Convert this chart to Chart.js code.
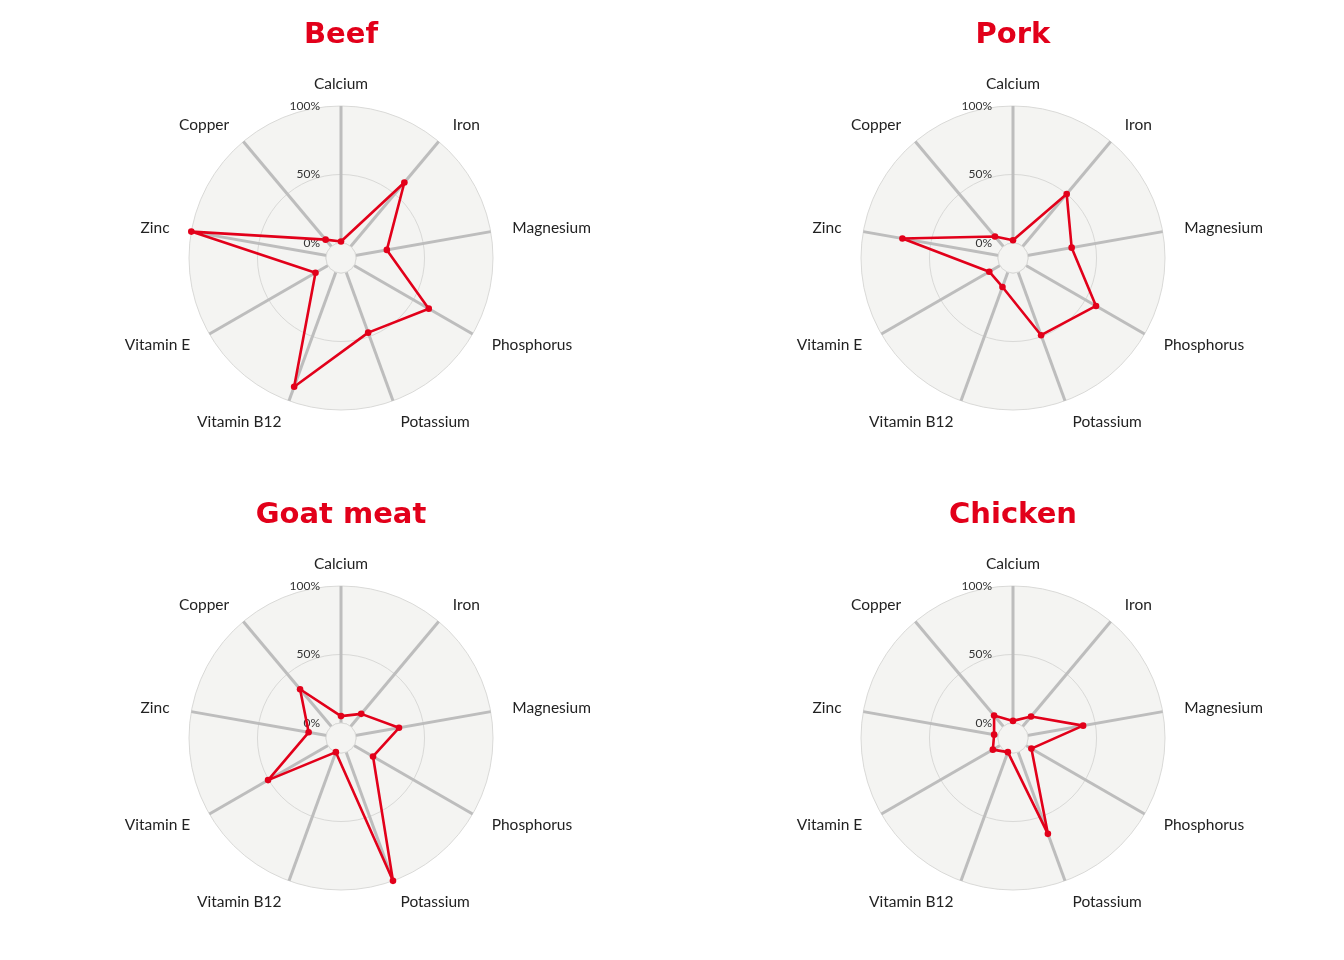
<!DOCTYPE html>
<html>
<head>
<meta charset="utf-8">
<script src="https://cdn.jsdelivr.net/npm/chart.js@4/dist/chart.umd.min.js"></script>
<style>
  html, body { margin: 0; padding: 0; background: #ffffff; }
  #grid { width: 1344px; height: 960px; display: grid; grid-template-columns: 672px 672px; grid-template-rows: 480px 480px; }
  .cell { width: 672px; height: 480px; position: relative; }
  canvas { display: block; }
</style>
</head>
<body>
<div id="grid">
  <div class="cell"><canvas id="c0" width="672" height="480"></canvas></div>
  <div class="cell"><canvas id="c1" width="672" height="480"></canvas></div>
  <div class="cell"><canvas id="c2" width="672" height="480"></canvas></div>
  <div class="cell"><canvas id="c3" width="672" height="480"></canvas></div>
</div>
<script>
// ---- data ----
const categories = ['Calcium', 'Iron', 'Magnesium', 'Phosphorus', 'Potassium', 'Vitamin B12', 'Vitamin E', 'Zinc', 'Copper'];
const titles = ['Beef', 'Pork', 'Goat meat', 'Chicken'];
const beef    = [1,   61,   23,   63,   47,   89,   10.5, 100,  6.5];
const pork    = [2,   50,   32.5, 59,   49,   11.5, 9,    71,   9.5];
const goat    = [5,   12,   32,   16,   100,  0,    50.5, 13,   35.5];
const chicken = [1.5, 9.5,  41,   4.5,  63.5, 0,    6,    3,    10.5];
const seriesList = [beef, pork, goat, chicken];
const tickValues = [0, 50, 100];
const tickLabels = ['0%', '50%', '100%'];

// ---- style ----
const RED = '#e2001a';
const BG = '#f4f4f2';
const GRID = '#d9d9d7';
const SPOKE = '#bdbdbd';
const FONT = 'Lato, "Open Sans", sans-serif';
const TITLE_FONT = '"DejaVu Sans", Lato, sans-serif';

const holePlugin = {
  id: 'hole',
  beforeDatasetsDraw(chart) {
    const s = chart.scales.r;
    const ctx = chart.ctx;
    const r0 = s.getDistanceFromCenterForValue(0);
    ctx.save();
    ctx.beginPath();
    ctx.arc(s.xCenter, s.yCenter, r0, 0, Math.PI * 2);
    ctx.fillStyle = BG;
    ctx.fill();
    ctx.lineWidth = 1;
    ctx.strokeStyle = GRID;
    ctx.stroke();
    // tick labels
    ctx.font = '12px ' + FONT;
    ctx.fillStyle = '#333333';
    ctx.textAlign = 'right';
    ctx.textBaseline = 'middle';
    tickValues.forEach((v, i) => {
      const d = s.getDistanceFromCenterForValue(v);
      ctx.fillText(tickLabels[i], s.xCenter - 21, s.yCenter - d);
    });
    ctx.restore();
  }
};

const pointLabelPlugin = {
  id: 'pointLabelsCustom',
  afterDraw(chart) {
    const s = chart.scales.r;
    const ctx = chart.ctx;
    ctx.save();
    ctx.font = '15.5px ' + FONT;
    ctx.fillStyle = '#222222';
    ctx.textBaseline = 'middle';
    chart.data.labels.forEach((lab, i) => {
      const p = s.getPointPosition(i, s.drawingArea + 22);
      const dx = p.x - s.xCenter;
      ctx.textAlign = Math.abs(dx) < 1 ? 'center' : (dx > 0 ? 'left' : 'right');
      ctx.fillText(lab, p.x, p.y);
    });
    ctx.restore();
  }
};

seriesList.forEach((vals, k) => {
  new Chart(document.getElementById('c' + k), {
    type: 'radar',
    data: {
      labels: categories,
      datasets: [{
        data: vals,
        borderColor: RED,
        backgroundColor: RED,
        borderWidth: 2.6,
        borderJoinStyle: 'round',
        pointRadius: 3.3,
        pointBackgroundColor: RED,
        pointBorderWidth: 0,
        fill: false,
        tension: 0
      }]
    },
    options: {
      responsive: false,
      animation: false,
      devicePixelRatio: 1,
      layout: { padding: { top: 0, left: 189, right: 179, bottom: 70 } },
      plugins: {
        legend: { display: false },
        tooltip: { enabled: false },
        title: {
          display: true,
          text: titles[k],
          color: RED,
          font: { family: TITLE_FONT, size: 29, weight: 'bold', lineHeight: 1.2 },
          padding: { top: 18, bottom: 53.2 }
        }
      },
      scales: {
        r: {
          min: -11,
          max: 100,
          backgroundColor: BG,
          afterBuildTicks(scale) { scale.ticks = tickValues.map(v => ({ value: v })); },
          ticks: { display: false },
          pointLabels: { display: false },
          grid: { circular: true, color: GRID, lineWidth: 1 },
          angleLines: { color: SPOKE, lineWidth: 3 }
        }
      }
    },
    plugins: [holePlugin, pointLabelPlugin]
  });
});
</script>
</body>
</html>
